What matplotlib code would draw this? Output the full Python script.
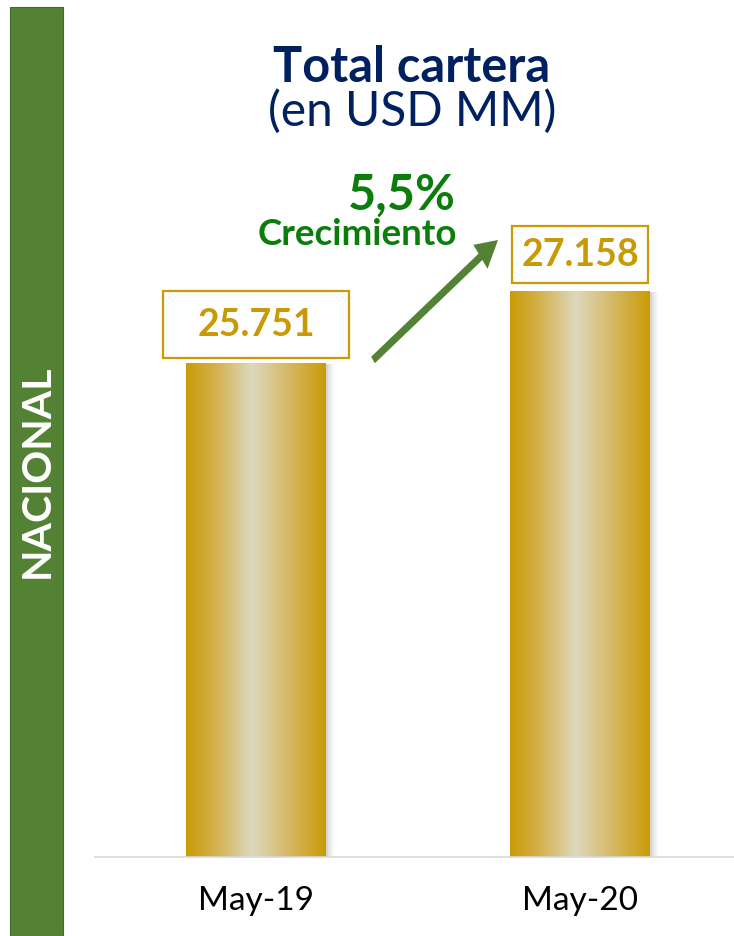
import matplotlib
matplotlib.use("Agg")
import matplotlib.pyplot as plt
import matplotlib.transforms as mtransforms
from matplotlib.patches import Rectangle, FancyArrow
import numpy as np

plt.rcParams['font.family'] = ['Lato', 'DejaVu Sans']

# ---- data ----
categories = ["May-19", "May-20"]
values = [25751, 27158]
value_labels = ["25.751", "27.158"]
growth_label = "5,5%"
growth_text = "Crecimiento"
title = "Total cartera"
subtitle = "(en USD MM)"
side_label = "NACIONAL"

W, H = 734, 936
fig = plt.figure(figsize=(W / 100, H / 100), dpi=100)

def fx(px):
    return px / W

def fy(py):
    return 1 - py / H

# green side band
fig.patches.append(Rectangle((fx(10), 0), fx(63) - fx(10), fy(7), transform=fig.transFigure,
                             facecolor="#548235", edgecolor="#3f6a27", linewidth=0.8, zorder=0))
fig.text(fx(37), fy(471), side_label, rotation=90, color="white", fontsize=29.5,
         fontweight="bold", ha="center", va="center")

# titles
fig.text(fx(412), fy(82), title, color="#002060", fontsize=35, fontweight="bold",
         ha="center", va="baseline")
fig.text(fx(412), fy(126), subtitle, color="#002060", fontsize=34.5,
         ha="center", va="baseline")

ax = fig.add_axes([fx(95), fy(857), fx(734) - fx(95), 857 / H])
ymin, ymax = 16097, 32845
x = np.arange(len(categories))
bw = 0.432

# gradient for bars
stops = np.array([[203, 155, 5], [212, 178, 80], [221, 217, 190], [214, 186, 105], [203, 155, 5]]) / 255
pos = np.array([0.0, 0.22, 0.47, 0.72, 1.0])
t = np.linspace(0, 1, 256)
grad = np.stack([np.interp(t, pos, stops[:, c]) for c in range(3)], axis=-1)[None, :, :]

for xi, v in zip(x, values):
    # soft shadow
    for k, a in [(8, 0.05), (6, 0.07), (4, 0.10), (2, 0.12)]:
        ax.add_patch(Rectangle((xi - bw / 2, ymin), bw, v - ymin, facecolor="#7f7f7f", alpha=a,
                               edgecolor="none", zorder=1,
                               transform=ax.transData + mtransforms.Affine2D().translate(k, -1)))
    ax.imshow(grad, extent=(xi - bw / 2, xi + bw / 2, ymin, v), aspect="auto", zorder=2,
              interpolation="bilinear")

bars = ax.bar(x, values, width=bw, color="none", edgecolor="none", zorder=3)

ax.set_xlim(-0.497, 1.475)
ax.set_ylim(ymin, ymax)
for s in ["top", "left", "right"]:
    ax.spines[s].set_visible(False)
ax.spines["bottom"].set_color("#D9D9D9")
ax.spines["bottom"].set_linewidth(1.2)
ax.set_yticks([])
ax.set_xticks(x)
ax.set_xticklabels(categories, fontsize=24, color="black")
ax.tick_params(axis="x", length=0, pad=21)
ax.patch.set_alpha(0)

# value boxes (pixel sizes relative to bar top)
box_specs = [(-93, 5, 186, 67, 38.5), (-68, 8, 136, 57, 36.5)]
for xi, v, lab, (bx, by, bwid, bh, ty) in zip(x, values, value_labels, box_specs):
    anchor = mtransforms.ScaledTranslation(xi, v, ax.transData)
    ax.add_patch(Rectangle((bx, by), bwid, bh, facecolor="white", edgecolor="#CC9A06",
                           linewidth=1.6, transform=mtransforms.Affine2D() + anchor,
                           clip_on=False, zorder=4))
    ax.annotate(lab, xy=(xi, v), xytext=(0, ty * 0.72), textcoords="offset points",
                ha="center", va="center", fontsize=27, fontweight="bold", color="#C99A06",
                zorder=5, annotation_clip=False)

# growth arrow and text
fig.patches.append(FancyArrow(
    fx(373), fy(360), fx(498) - fx(373), fy(240) - fy(360), width=8 / H, head_width=30 / H,
    head_length=28 / H, length_includes_head=True, transform=fig.transFigure,
    facecolor="#548235", edgecolor="none", zorder=6))
fig.text(fx(456), fy(210), growth_label, color="#0B7D0B", fontsize=35, fontweight="bold",
         ha="right", va="baseline")
fig.text(fx(457), fy(245), growth_text, color="#0B7D0B", fontsize=26.5, fontweight="bold",
         ha="right", va="baseline")

fig.savefig("out.png", dpi=100)
